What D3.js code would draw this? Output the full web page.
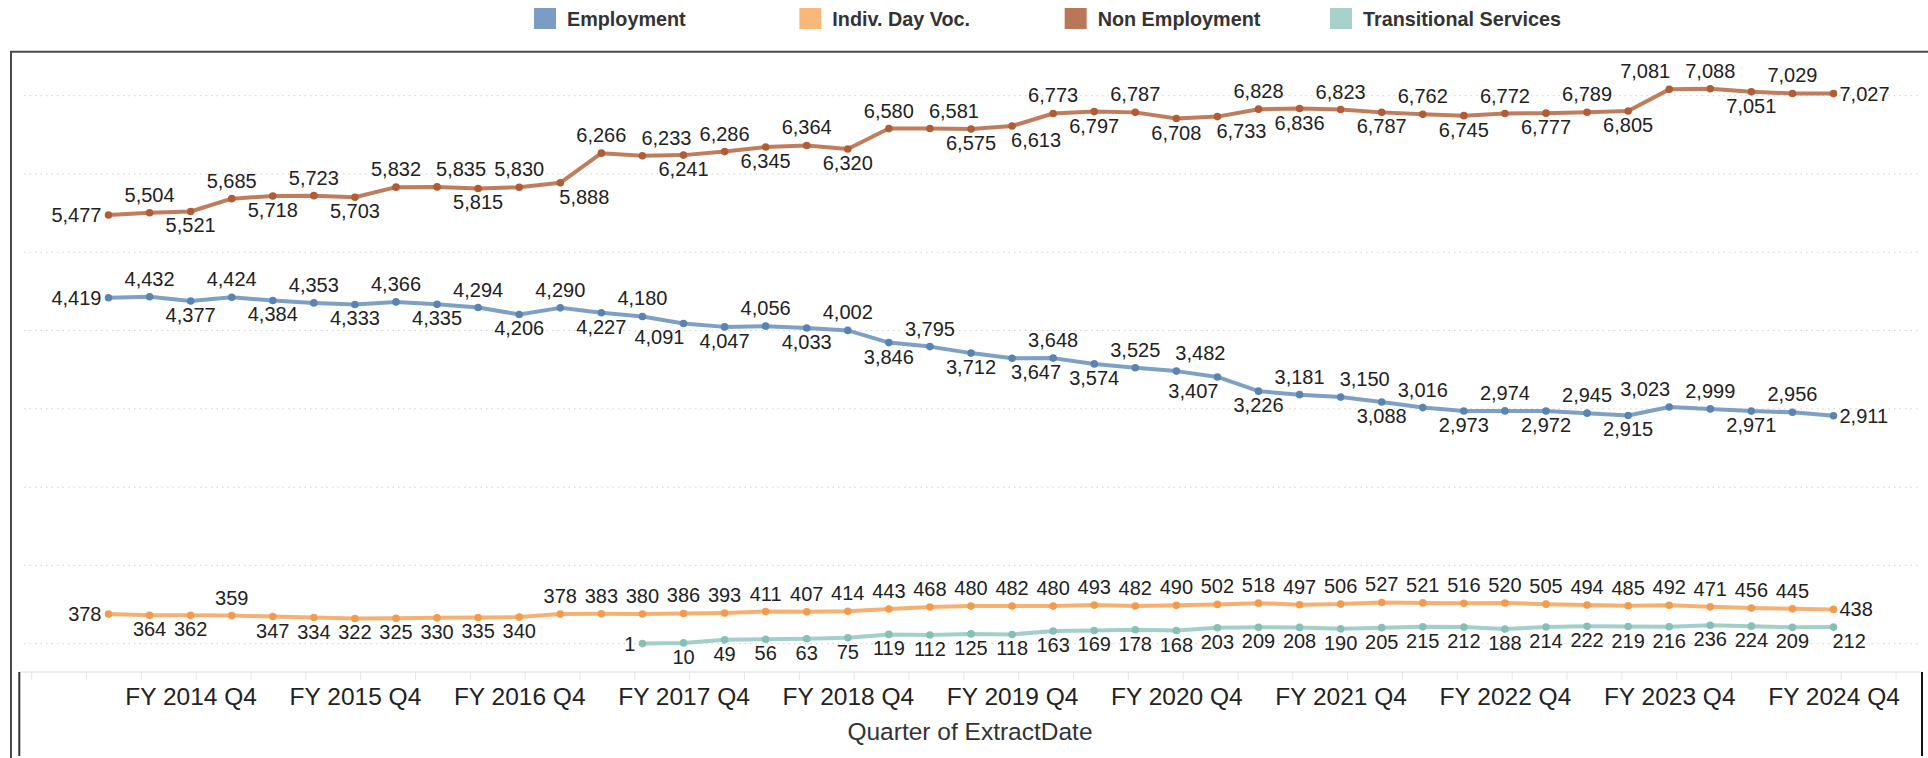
<!DOCTYPE html>
<html>
<head>
<meta charset="utf-8">
<script src="https://cdn.jsdelivr.net/npm/d3@7"></script>
<style>
  body { margin: 0; background: #fff; }
  svg { display: block; font-family: 'Liberation Sans', Arial, sans-serif; }
</style>
</head>
<body>
<div id="chart"></div>
<script>
(() => {
'use strict';

// quarters on the x axis (FY 2014 Q2 .. FY 2024 Q4)
const quarters = [
  'FY 2014 Q2', 'FY 2014 Q3', 'FY 2014 Q4',
  'FY 2015 Q1', 'FY 2015 Q2', 'FY 2015 Q3', 'FY 2015 Q4',
  'FY 2016 Q1', 'FY 2016 Q2', 'FY 2016 Q3', 'FY 2016 Q4',
  'FY 2017 Q1', 'FY 2017 Q2', 'FY 2017 Q3', 'FY 2017 Q4',
  'FY 2018 Q1', 'FY 2018 Q2', 'FY 2018 Q3', 'FY 2018 Q4',
  'FY 2019 Q1', 'FY 2019 Q2', 'FY 2019 Q3', 'FY 2019 Q4',
  'FY 2020 Q1', 'FY 2020 Q2', 'FY 2020 Q3', 'FY 2020 Q4',
  'FY 2021 Q1', 'FY 2021 Q2', 'FY 2021 Q3', 'FY 2021 Q4',
  'FY 2022 Q1', 'FY 2022 Q2', 'FY 2022 Q3', 'FY 2022 Q4',
  'FY 2023 Q1', 'FY 2023 Q2', 'FY 2023 Q3', 'FY 2023 Q4',
  'FY 2024 Q1', 'FY 2024 Q2', 'FY 2024 Q3', 'FY 2024 Q4'
];
const tickQuarters = ['FY 2014 Q4', 'FY 2015 Q4', 'FY 2016 Q4', 'FY 2017 Q4', 'FY 2018 Q4',
  'FY 2019 Q4', 'FY 2020 Q4', 'FY 2021 Q4', 'FY 2022 Q4', 'FY 2023 Q4', 'FY 2024 Q4'];

const seriesNames = ['Employment', 'Indiv. Day Voc.', 'Non Employment', 'Transitional Services'];

const employment = [4419, 4432, 4377, 4424, 4384, 4353, 4333, 4366, 4335, 4294, 4206, 4290, 4227, 4180,
  4091, 4047, 4056, 4033, 4002, 3846, 3795, 3712, 3647, 3648, 3574, 3525, 3482, 3407, 3226, 3181,
  3150, 3088, 3016, 2973, 2974, 2972, 2945, 2915, 3023, 2999, 2971, 2956, 2911];

const indivDayVoc = [378, 364, 362, 359, 347, 334, 322, 325, 330, 335, 340, 378, 383, 380, 386, 393,
  411, 407, 414, 443, 468, 480, 482, 480, 493, 482, 490, 502, 518, 497, 506, 527, 521, 516, 520,
  505, 494, 485, 492, 471, 456, 445, 438];

const nonEmployment = [5477, 5504, 5521, 5685, 5718, 5723, 5703, 5832, 5835, 5815, 5830, 5888, 6266,
  6233, 6241, 6286, 6345, 6364, 6320, 6580, 6581, 6575, 6613, 6773, 6797, 6787, 6708, 6733, 6828,
  6836, 6823, 6787, 6762, 6745, 6772, 6777, 6789, 6805, 7081, 7088, 7051, 7029, 7027];

// starts in FY 2017 Q3
const transitional = [null, null, null, null, null, null, null, null, null, null, null, null, null,
  1, 10, 49, 56, 63, 75, 119, 112, 125, 118, 163, 169, 178, 168, 203, 209, 208, 190, 205, 215, 212,
  188, 214, 222, 219, 216, 236, 224, 209, 212];

// label placement codes, like tableau put them (a = above, b = below, r/l = shifted, L/R = side)
const LABEL_POS = {
  'Employment': 'L a b a b a b a b a b a b a bl b a b a b a b br a b a ar bl b a ar b a b a b a b al a b a R',
  'Indiv. Day Voc.': 'L b b a b b b b b b b a a a a a a a a a a a a a a a a a a a a a a a a a a a a a a a R',
  'Non Employment': 'L a b a b a b a ar b a br a ar b a b a b a ar b br a b a b br a b a b a b a b a b al a b a R',
  'Transitional Services': 'L b b b b b b b b b b b b b b b b b b b b b b b b b b b b br'
};

const WIDTH = 1928;
const HEIGHT = 758;
const FRAME_TOP = 51.7;
const AXIS_Y = 672;

const lineColor = d3.scaleOrdinal(seriesNames, ['#7196bf', '#f5a963', '#b96f4d', '#98cac3']);
const dotColor = d3.scaleOrdinal(seriesNames, ['#5b83b0', '#f29b4c', '#b05c35', '#85bfb6']);
const legendColor = d3.scaleOrdinal(seriesNames, ['#7b9dc5', '#f7b87a', '#ba7658', '#a7d1cb']);

const series = [
  { name: 'Employment', values: employment },
  { name: 'Indiv. Day Voc.', values: indivDayVoc },
  { name: 'Non Employment', values: nonEmployment },
  { name: 'Transitional Services', values: transitional }
];

const SVG = d3.select('#chart')
  .append('svg')
  .attr('width', WIDTH)
  .attr('height', HEIGHT);

const x = d3.scalePoint()
  .domain(quarters)
  .range([108.5, 1833.5]);

const y = d3.scaleLinear()
  .domain([0, 7000])
  .range([643.7, 95.7]);

// dotted gridlines
SVG.append('g')
  .selectAll('line')
  .data(y.ticks(7))
  .enter()
  .append('line')
    .attr('x1', 24)
    .attr('x2', 1920)
    .attr('y1', (d) => y(d))
    .attr('y2', (d) => y(d))
    .attr('stroke', '#cfcfcf')
    .attr('stroke-width', 1)
    .attr('stroke-dasharray', '1.5,4');

// pane frame
SVG.append('path')
  .attr('d', `M11,${HEIGHT} V${FRAME_TOP} H${WIDTH}`)
  .attr('fill', 'none')
  .attr('stroke', '#4a4a4a')
  .attr('stroke-width', 2);

// x axis header box
SVG.append('line')
  .attr('x1', 19).attr('x2', 1922)
  .attr('y1', AXIS_Y).attr('y2', AXIS_Y)
  .attr('stroke', '#e8e8e8')
  .attr('stroke-width', 1.5);

const tickPos = d3.scaleLinear().domain([0, 34]).range([31.7, 1896]);
SVG.append('g')
  .selectAll('line')
  .data(d3.range(35))
  .enter()
  .append('line')
    .attr('x1', (d) => tickPos(d))
    .attr('x2', (d) => tickPos(d))
    .attr('y1', AXIS_Y)
    .attr('y2', AXIS_Y + 8)
    .attr('stroke', '#e6e6e6');

SVG.append('line')
  .attr('x1', 19.3).attr('x2', 19.3)
  .attr('y1', AXIS_Y).attr('y2', 756)
  .attr('stroke', '#333')
  .attr('stroke-width', 2);

SVG.append('line')
  .attr('x1', 1922).attr('x2', 1922)
  .attr('y1', AXIS_Y).attr('y2', 756)
  .attr('stroke', '#111')
  .attr('stroke-width', 2);

const xAxis = d3.axisBottom(x)
  .tickValues(tickQuarters)
  .tickSize(0)
  .tickPadding(16);

const xAxisG = SVG.append('g')
  .attr('id', 'x-axis')
  .attr('transform', `translate(0, ${AXIS_Y})`)
  .call(xAxis);

xAxisG.select('.domain').remove();
xAxisG.selectAll('text')
  .style('font-size', '24.5px')
  .style('font-family', "'Liberation Sans', Arial, sans-serif")
  .attr('fill', '#222');

SVG.append('text')
  .attr('x', 970)
  .attr('y', 740)
  .attr('text-anchor', 'middle')
  .style('font-size', '24.5px')
  .attr('fill', '#333')
  .text('Quarter of ExtractDate');

// lines, dots and labels
const line = d3.line()
  .defined((d) => d != null)
  .x((d, i) => x(quarters[i]))
  .y((d) => y(d));

const labelAttrs = (pos, px, py) => {
  switch (pos) {
    case 'a': return [px, py - 11, 'middle'];
    case 'b': return [px, py + 21, 'middle'];
    case 'ar': return [px - 1, py - 11, 'start'];
    case 'br': return [px - 1, py + 21, 'start'];
    case 'al': return [px + 1, py - 11, 'end'];
    case 'bl': return [px + 1, py + 21, 'end'];
    case 'L': return [px - 7, py + 7, 'end'];
    default: return [px + 6, py + 7, 'start'];
  }
};

const fmt = d3.format(',');

series.forEach((s) => {
  const g = SVG.append('g').attr('class', 'series');
  const pts = s.values
    .map((v, i) => ({ q: quarters[i], v: v }))
    .filter((d) => d.v != null);
  const codes = LABEL_POS[s.name].split(' ');

  g.append('path')
    .datum(s.values)
    .attr('d', line)
    .attr('fill', 'none')
    .attr('stroke', lineColor(s.name))
    .attr('stroke-width', 4)
    .attr('stroke-opacity', 0.9)
    .attr('stroke-linejoin', 'round');

  g.selectAll('circle')
    .data(pts)
    .enter()
    .append('circle')
      .attr('cx', (d) => x(d.q))
      .attr('cy', (d) => y(d.v))
      .attr('r', 3.8)
      .attr('fill', dotColor(s.name));

  g.selectAll('text')
    .data(pts)
    .enter()
    .append('text')
      .each(function (d, i) {
        const [tx, ty, anchor] = labelAttrs(codes[i], x(d.q), y(d.v));
        d3.select(this)
          .attr('x', tx)
          .attr('y', ty)
          .attr('text-anchor', anchor);
      })
      .style('font-size', '20px')
      .attr('fill', '#222')
      .text((d) => fmt(d.v));
});

// legend
const legendX = d3.scalePoint().domain(seriesNames).range([534, 1330]);
const legend = SVG.selectAll('.legend')
  .data(seriesNames)
  .enter()
  .append('g')
    .attr('class', 'legend')
    .attr('transform', (d) => `translate(${legendX(d)}, 0)`);

legend.append('rect')
  .attr('x', 0)
  .attr('y', 8)
  .attr('width', 22)
  .attr('height', 21)
  .attr('fill', legendColor);

legend.append('text')
  .attr('x', 33)
  .attr('y', 26)
  .style('font-size', '19.8px')
  .style('font-weight', 'bold')
  .attr('fill', '#333')
  .text((d) => d);

})();
</script>
</body>
</html>
